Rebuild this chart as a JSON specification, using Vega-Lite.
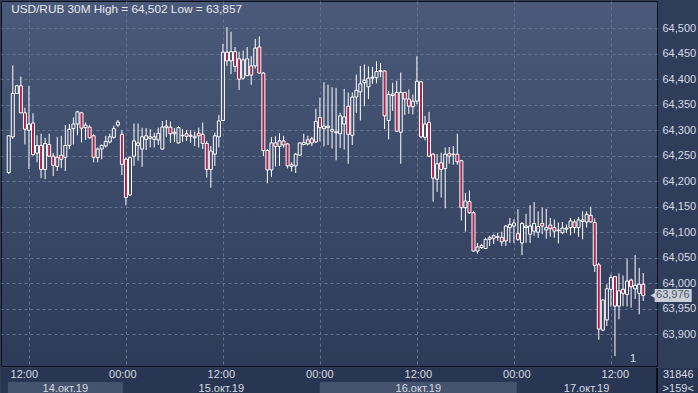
{
  "$schema": "https://vega.github.io/schema/vega-lite/v6.json",
  "padding": 0,
  "spacing": 0,
  "background": "#2f3d5a",
  "config": {"font": "Liberation Sans Narrow, Liberation Sans, sans-serif", "view": {"stroke": null}},
  "resolve": {"scale": {"x": "independent", "y": "independent"}},
  "datasets": {
    "candles": [
      {"t":"2019-10-14T09:30","o":64.217,"h":64.290,"l":64.214,"c":64.289},
      {"t":"2019-10-14T10:00","o":64.287,"h":64.427,"l":64.283,"c":64.372},
      {"t":"2019-10-14T10:30","o":64.372,"h":64.389,"l":64.371,"c":64.387},
      {"t":"2019-10-14T11:00","o":64.387,"h":64.405,"l":64.333,"c":64.334},
      {"t":"2019-10-14T11:30","o":64.334,"h":64.344,"l":64.272,"c":64.302},
      {"t":"2019-10-14T12:00","o":64.300,"h":64.387,"l":64.224,"c":64.312},
      {"t":"2019-10-14T12:30","o":64.314,"h":64.333,"l":64.250,"c":64.252},
      {"t":"2019-10-14T13:00","o":64.255,"h":64.290,"l":64.237,"c":64.270},
      {"t":"2019-10-14T13:30","o":64.270,"h":64.293,"l":64.206,"c":64.223},
      {"t":"2019-10-14T14:00","o":64.223,"h":64.285,"l":64.204,"c":64.274},
      {"t":"2019-10-14T14:30","o":64.272,"h":64.293,"l":64.247,"c":64.249},
      {"t":"2019-10-14T15:00","o":64.249,"h":64.255,"l":64.210,"c":64.231},
      {"t":"2019-10-14T15:30","o":64.229,"h":64.287,"l":64.220,"c":64.247},
      {"t":"2019-10-14T16:00","o":64.251,"h":64.289,"l":64.226,"c":64.243},
      {"t":"2019-10-14T16:30","o":64.247,"h":64.310,"l":64.220,"c":64.270},
      {"t":"2019-10-14T17:00","o":64.270,"h":64.312,"l":64.263,"c":64.302},
      {"t":"2019-10-14T17:30","o":64.303,"h":64.325,"l":64.272,"c":64.312},
      {"t":"2019-10-14T18:00","o":64.312,"h":64.338,"l":64.290,"c":64.336},
      {"t":"2019-10-14T18:30","o":64.334,"h":64.336,"l":64.276,"c":64.304},
      {"t":"2019-10-14T19:00","o":64.305,"h":64.315,"l":64.281,"c":64.310},
      {"t":"2019-10-14T19:30","o":64.306,"h":64.310,"l":64.284,"c":64.285},
      {"t":"2019-10-14T20:00","o":64.289,"h":64.292,"l":64.237,"c":64.247},
      {"t":"2019-10-14T20:30","o":64.246,"h":64.266,"l":64.237,"c":64.263},
      {"t":"2019-10-14T21:00","o":64.263,"h":64.272,"l":64.243,"c":64.270},
      {"t":"2019-10-14T21:30","o":64.269,"h":64.289,"l":64.266,"c":64.278},
      {"t":"2019-10-14T22:00","o":64.277,"h":64.293,"l":64.274,"c":64.287},
      {"t":"2019-10-14T22:30","o":64.286,"h":64.309,"l":64.283,"c":64.303},
      {"t":"2019-10-14T23:00","o":64.310,"h":64.320,"l":64.306,"c":64.316},
      {"t":"2019-10-14T23:30","o":64.292,"h":64.300,"l":64.212,"c":64.233},
      {"t":"2019-10-15T00:00","o":64.243,"h":64.247,"l":64.153,"c":64.168},
      {"t":"2019-10-15T00:30","o":64.173,"h":64.249,"l":64.171,"c":64.246},
      {"t":"2019-10-15T01:00","o":64.249,"h":64.313,"l":64.230,"c":64.279},
      {"t":"2019-10-15T01:30","o":64.270,"h":64.313,"l":64.240,"c":64.275},
      {"t":"2019-10-15T02:00","o":64.263,"h":64.305,"l":64.228,"c":64.287},
      {"t":"2019-10-15T02:30","o":64.282,"h":64.304,"l":64.261,"c":64.289},
      {"t":"2019-10-15T03:00","o":64.284,"h":64.302,"l":64.266,"c":64.287},
      {"t":"2019-10-15T03:30","o":64.282,"h":64.295,"l":64.266,"c":64.287},
      {"t":"2019-10-15T04:00","o":64.281,"h":64.305,"l":64.271,"c":64.294},
      {"t":"2019-10-15T04:30","o":64.263,"h":64.318,"l":64.262,"c":64.306},
      {"t":"2019-10-15T05:00","o":64.305,"h":64.320,"l":64.287,"c":64.308},
      {"t":"2019-10-15T05:30","o":64.306,"h":64.317,"l":64.275,"c":64.293},
      {"t":"2019-10-15T06:00","o":64.293,"h":64.304,"l":64.277,"c":64.296},
      {"t":"2019-10-15T06:30","o":64.275,"h":64.308,"l":64.274,"c":64.305},
      {"t":"2019-10-15T07:00","o":64.289,"h":64.302,"l":64.277,"c":64.290},
      {"t":"2019-10-15T07:30","o":64.293,"h":64.300,"l":64.279,"c":64.288},
      {"t":"2019-10-15T08:00","o":64.288,"h":64.300,"l":64.275,"c":64.290},
      {"t":"2019-10-15T08:30","o":64.285,"h":64.297,"l":64.269,"c":64.288},
      {"t":"2019-10-15T09:00","o":64.294,"h":64.305,"l":64.266,"c":64.289},
      {"t":"2019-10-15T09:30","o":64.292,"h":64.315,"l":64.263,"c":64.274},
      {"t":"2019-10-15T10:00","o":64.274,"h":64.279,"l":64.207,"c":64.223},
      {"t":"2019-10-15T10:30","o":64.223,"h":64.269,"l":64.187,"c":64.259},
      {"t":"2019-10-15T11:00","o":64.253,"h":64.295,"l":64.230,"c":64.289},
      {"t":"2019-10-15T11:30","o":64.287,"h":64.330,"l":64.266,"c":64.318},
      {"t":"2019-10-15T12:00","o":64.319,"h":64.469,"l":64.318,"c":64.453},
      {"t":"2019-10-15T12:30","o":64.453,"h":64.502,"l":64.426,"c":64.436},
      {"t":"2019-10-15T13:00","o":64.436,"h":64.493,"l":64.410,"c":64.454},
      {"t":"2019-10-15T13:30","o":64.454,"h":64.463,"l":64.414,"c":64.425},
      {"t":"2019-10-15T14:00","o":64.440,"h":64.454,"l":64.379,"c":64.400},
      {"t":"2019-10-15T14:30","o":64.402,"h":64.456,"l":64.399,"c":64.438},
      {"t":"2019-10-15T15:00","o":64.407,"h":64.463,"l":64.406,"c":64.440},
      {"t":"2019-10-15T15:30","o":64.426,"h":64.445,"l":64.389,"c":64.408},
      {"t":"2019-10-15T16:00","o":64.426,"h":64.479,"l":64.421,"c":64.461},
      {"t":"2019-10-15T16:30","o":64.463,"h":64.484,"l":64.411,"c":64.412},
      {"t":"2019-10-15T17:00","o":64.412,"h":64.414,"l":64.249,"c":64.260},
      {"t":"2019-10-15T17:30","o":64.260,"h":64.263,"l":64.196,"c":64.222},
      {"t":"2019-10-15T18:00","o":64.222,"h":64.286,"l":64.208,"c":64.275},
      {"t":"2019-10-15T18:30","o":64.275,"h":64.288,"l":64.229,"c":64.268},
      {"t":"2019-10-15T19:00","o":64.268,"h":64.294,"l":64.230,"c":64.279},
      {"t":"2019-10-15T19:30","o":64.279,"h":64.289,"l":64.266,"c":64.271},
      {"t":"2019-10-15T20:00","o":64.273,"h":64.275,"l":64.225,"c":64.230},
      {"t":"2019-10-15T20:30","o":64.229,"h":64.237,"l":64.219,"c":64.232},
      {"t":"2019-10-15T21:00","o":64.230,"h":64.255,"l":64.216,"c":64.253},
      {"t":"2019-10-15T21:30","o":64.251,"h":64.276,"l":64.250,"c":64.275},
      {"t":"2019-10-15T22:00","o":64.272,"h":64.293,"l":64.270,"c":64.276},
      {"t":"2019-10-15T22:30","o":64.273,"h":64.289,"l":64.270,"c":64.281},
      {"t":"2019-10-15T23:00","o":64.283,"h":64.287,"l":64.269,"c":64.275},
      {"t":"2019-10-15T23:30","o":64.277,"h":64.342,"l":64.275,"c":64.317},
      {"t":"2019-10-16T00:00","o":64.325,"h":64.364,"l":64.278,"c":64.305},
      {"t":"2019-10-16T00:30","o":64.303,"h":64.394,"l":64.268,"c":64.308},
      {"t":"2019-10-16T01:00","o":64.305,"h":64.389,"l":64.271,"c":64.308},
      {"t":"2019-10-16T01:30","o":64.298,"h":64.384,"l":64.264,"c":64.301},
      {"t":"2019-10-16T02:00","o":64.295,"h":64.383,"l":64.241,"c":64.297},
      {"t":"2019-10-16T02:30","o":64.293,"h":64.334,"l":64.265,"c":64.328},
      {"t":"2019-10-16T03:00","o":64.312,"h":64.381,"l":64.262,"c":64.326},
      {"t":"2019-10-16T03:30","o":64.347,"h":64.374,"l":64.234,"c":64.292},
      {"t":"2019-10-16T04:00","o":64.290,"h":64.374,"l":64.271,"c":64.365},
      {"t":"2019-10-16T04:30","o":64.365,"h":64.409,"l":64.334,"c":64.378},
      {"t":"2019-10-16T05:00","o":64.375,"h":64.426,"l":64.319,"c":64.391},
      {"t":"2019-10-16T05:30","o":64.393,"h":64.429,"l":64.347,"c":64.398},
      {"t":"2019-10-16T06:00","o":64.385,"h":64.425,"l":64.361,"c":64.402},
      {"t":"2019-10-16T06:30","o":64.402,"h":64.424,"l":64.391,"c":64.404},
      {"t":"2019-10-16T07:00","o":64.403,"h":64.435,"l":64.392,"c":64.415},
      {"t":"2019-10-16T07:30","o":64.415,"h":64.432,"l":64.404,"c":64.417},
      {"t":"2019-10-16T08:00","o":64.416,"h":64.418,"l":64.302,"c":64.328},
      {"t":"2019-10-16T08:30","o":64.319,"h":64.377,"l":64.282,"c":64.370},
      {"t":"2019-10-16T09:00","o":64.368,"h":64.393,"l":64.338,"c":64.371},
      {"t":"2019-10-16T09:30","o":64.374,"h":64.397,"l":64.297,"c":64.298},
      {"t":"2019-10-16T10:00","o":64.296,"h":64.413,"l":64.234,"c":64.374},
      {"t":"2019-10-16T10:30","o":64.374,"h":64.375,"l":64.330,"c":64.361},
      {"t":"2019-10-16T11:00","o":64.361,"h":64.380,"l":64.332,"c":64.347},
      {"t":"2019-10-16T11:30","o":64.346,"h":64.370,"l":64.331,"c":64.357},
      {"t":"2019-10-16T12:00","o":64.357,"h":64.445,"l":64.351,"c":64.396},
      {"t":"2019-10-16T12:30","o":64.395,"h":64.396,"l":64.285,"c":64.287},
      {"t":"2019-10-16T13:00","o":64.286,"h":64.328,"l":64.280,"c":64.312},
      {"t":"2019-10-16T13:30","o":64.315,"h":64.336,"l":64.247,"c":64.249},
      {"t":"2019-10-16T14:00","o":64.253,"h":64.255,"l":64.160,"c":64.206},
      {"t":"2019-10-16T14:30","o":64.204,"h":64.253,"l":64.179,"c":64.234},
      {"t":"2019-10-16T15:00","o":64.236,"h":64.256,"l":64.168,"c":64.223},
      {"t":"2019-10-16T15:30","o":64.225,"h":64.266,"l":64.147,"c":64.253},
      {"t":"2019-10-16T16:00","o":64.254,"h":64.267,"l":64.234,"c":64.249},
      {"t":"2019-10-16T16:30","o":64.252,"h":64.269,"l":64.232,"c":64.253},
      {"t":"2019-10-16T17:00","o":64.253,"h":64.293,"l":64.232,"c":64.238},
      {"t":"2019-10-16T17:30","o":64.240,"h":64.242,"l":64.123,"c":64.148},
      {"t":"2019-10-16T18:00","o":64.148,"h":64.177,"l":64.101,"c":64.161},
      {"t":"2019-10-16T18:30","o":64.160,"h":64.182,"l":64.136,"c":64.138},
      {"t":"2019-10-16T19:00","o":64.138,"h":64.141,"l":64.062,"c":64.063},
      {"t":"2019-10-16T19:30","o":64.063,"h":64.079,"l":64.058,"c":64.071},
      {"t":"2019-10-16T20:00","o":64.070,"h":64.077,"l":64.067,"c":64.074},
      {"t":"2019-10-16T20:30","o":64.068,"h":64.089,"l":64.067,"c":64.086},
      {"t":"2019-10-16T21:00","o":64.086,"h":64.093,"l":64.073,"c":64.089},
      {"t":"2019-10-16T21:30","o":64.088,"h":64.096,"l":64.077,"c":64.093},
      {"t":"2019-10-16T22:00","o":64.090,"h":64.099,"l":64.083,"c":64.091},
      {"t":"2019-10-16T22:30","o":64.090,"h":64.101,"l":64.073,"c":64.081},
      {"t":"2019-10-16T23:00","o":64.083,"h":64.114,"l":64.073,"c":64.112},
      {"t":"2019-10-16T23:30","o":64.109,"h":64.128,"l":64.079,"c":64.115},
      {"t":"2019-10-17T00:00","o":64.112,"h":64.125,"l":64.079,"c":64.118},
      {"t":"2019-10-17T00:30","o":64.097,"h":64.145,"l":64.083,"c":64.086},
      {"t":"2019-10-17T01:00","o":64.079,"h":64.120,"l":64.055,"c":64.117},
      {"t":"2019-10-17T01:30","o":64.109,"h":64.136,"l":64.079,"c":64.112},
      {"t":"2019-10-17T02:00","o":64.096,"h":64.153,"l":64.079,"c":64.112},
      {"t":"2019-10-17T02:30","o":64.102,"h":64.159,"l":64.093,"c":64.117},
      {"t":"2019-10-17T03:00","o":64.100,"h":64.141,"l":64.089,"c":64.111},
      {"t":"2019-10-17T03:30","o":64.117,"h":64.148,"l":64.096,"c":64.112},
      {"t":"2019-10-17T04:00","o":64.104,"h":64.146,"l":64.087,"c":64.109},
      {"t":"2019-10-17T04:30","o":64.114,"h":64.128,"l":64.091,"c":64.107},
      {"t":"2019-10-17T05:00","o":64.109,"h":64.125,"l":64.089,"c":64.102},
      {"t":"2019-10-17T05:30","o":64.103,"h":64.119,"l":64.078,"c":64.104},
      {"t":"2019-10-17T06:00","o":64.099,"h":64.120,"l":64.096,"c":64.108},
      {"t":"2019-10-17T06:30","o":64.106,"h":64.115,"l":64.098,"c":64.108},
      {"t":"2019-10-17T07:00","o":64.109,"h":64.128,"l":64.094,"c":64.122},
      {"t":"2019-10-17T07:30","o":64.120,"h":64.125,"l":64.098,"c":64.109},
      {"t":"2019-10-17T08:00","o":64.109,"h":64.130,"l":64.091,"c":64.124},
      {"t":"2019-10-17T08:30","o":64.121,"h":64.141,"l":64.086,"c":64.124},
      {"t":"2019-10-17T09:00","o":64.120,"h":64.141,"l":64.109,"c":64.135},
      {"t":"2019-10-17T09:30","o":64.133,"h":64.150,"l":64.119,"c":64.120},
      {"t":"2019-10-17T10:00","o":64.119,"h":64.127,"l":64.022,"c":64.035},
      {"t":"2019-10-17T10:30","o":64.036,"h":64.040,"l":63.889,"c":63.910},
      {"t":"2019-10-17T11:00","o":63.908,"h":63.969,"l":63.906,"c":63.967},
      {"t":"2019-10-17T11:30","o":63.928,"h":63.998,"l":63.916,"c":63.989},
      {"t":"2019-10-17T12:00","o":63.988,"h":64.017,"l":63.954,"c":64.011},
      {"t":"2019-10-17T12:30","o":64.013,"h":64.014,"l":63.857,"c":63.955},
      {"t":"2019-10-17T13:00","o":63.955,"h":64.019,"l":63.929,"c":63.985},
      {"t":"2019-10-17T13:30","o":63.988,"h":64.015,"l":63.955,"c":63.980},
      {"t":"2019-10-17T14:00","o":63.978,"h":64.048,"l":63.954,"c":64.004},
      {"t":"2019-10-17T14:30","o":64.006,"h":64.009,"l":63.952,"c":63.993},
      {"t":"2019-10-17T15:00","o":63.989,"h":64.055,"l":63.969,"c":63.996},
      {"t":"2019-10-17T15:30","o":63.980,"h":64.030,"l":63.939,"c":63.998},
      {"t":"2019-10-17T16:00","o":63.998,"h":64.020,"l":63.965,"c":63.976}
    ]
  },
  "vconcat": [
    {
      "width": 656,
      "height": 365,
      "view": {
        "fill": {"gradient": "linear", "x1": 0, "y1": 0, "x2": 0, "y2": 1, "stops": [{"offset": 0, "color": "#4b5a7a"}, {"offset": 1, "color": "#2d3a58"}]},
        "stroke": "#0b0f16",
        "strokeWidth": 1
      },
      "encoding": {
        "x": {
          "field": "t", "type": "temporal",
          "scale": {"nice": false, "domain": [{"year": 2019, "month": 10, "date": 14, "hours": 9, "minutes": 9, "seconds": 36}, {"year": 2019, "month": 10, "date": 17, "hours": 17, "minutes": 5, "seconds": 6}]},
          "axis": {
            "values": [
              {"year": 2019, "month": 10, "date": 14, "hours": 12},
              {"year": 2019, "month": 10, "date": 15, "hours": 0},
              {"year": 2019, "month": 10, "date": 15, "hours": 12},
              {"year": 2019, "month": 10, "date": 16, "hours": 0},
              {"year": 2019, "month": 10, "date": 16, "hours": 12},
              {"year": 2019, "month": 10, "date": 17, "hours": 0},
              {"year": 2019, "month": 10, "date": 17, "hours": 12}
            ],
            "labels": false, "ticks": false, "domain": false, "title": null,
            "grid": true, "gridColor": "#64728f", "gridDash": [3, 3], "gridWidth": 1
          }
        },
        "y": {
          "field": "l", "type": "quantitative",
          "scale": {"domain": [63.8376, 64.5533], "nice": false, "zero": false},
          "axis": {
            "orient": "right", "title": null,
            "values": [63.9, 63.95, 64.0, 64.05, 64.1, 64.15, 64.2, 64.25, 64.3, 64.35, 64.4, 64.45, 64.5],
            "labelExpr": "replace(format(datum.value, '.3f'), '.', ',')",
            "grid": true, "gridColor": "#64728f", "gridDash": [3, 3],
            "ticks": false, "domain": false, "labelPadding": 5,
            "labelFontSize": 11, "labelColor": "#d6dbe4"
          }
        }
      },
      "layer": [
        {
          "data": {"name": "candles"},
          "mark": {"type": "rule", "color": "#ffffff", "strokeWidth": 1},
          "encoding": {"y2": {"field": "h"}}
        },
        {
          "data": {"name": "candles"},
          "transform": [{"filter": "datum.c >= datum.o"}],
          "mark": {"type": "bar", "orient": "vertical", "width": 3, "stroke": "#ffffff", "strokeWidth": 1},
          "encoding": {
            "y": {"field": "o", "type": "quantitative", "title": null},
            "y2": {"field": "c"},
            "fill": {"field": "c", "type": "quantitative", "scale": {"domain": [63.8376, 64.5533], "range": ["#2d3a58", "#4b5a7a"]}, "legend": null}
          }
        },
        {
          "data": {"name": "candles"},
          "transform": [{"filter": "datum.c < datum.o"}],
          "mark": {"type": "bar", "orient": "vertical", "width": 3, "stroke": "#ffffff", "strokeWidth": 1, "fill": "#a8234a"},
          "encoding": {
            "y": {"field": "o", "type": "quantitative", "title": null},
            "y2": {"field": "c"}
          }
        },
        {
          "data": {"values": [{"t": "2019-10-14T09:48", "p": 64.537, "label": "USD/RUB 30M  High = 64,502 Low = 63,857"}]},
          "mark": {"type": "text", "align": "left", "baseline": "middle", "fontSize": 11.8, "color": "#e6e9ef"},
          "encoding": {
            "y": {"field": "p", "type": "quantitative", "title": null},
            "text": {"field": "label"}
          }
        },
        {
          "data": {"values": [{"t": "2019-10-17T17:25", "t2": "2019-10-17T22:00", "p": 63.9886, "p2": 63.9631}]},
          "mark": {"type": "rect", "color": "#c9ced7"},
          "encoding": {
            "x2": {"field": "t2"},
            "y": {"field": "p", "type": "quantitative", "title": null},
            "y2": {"field": "p2"}
          }
        },
        {
          "data": {"values": [{"t": "2019-10-17T17:15", "p": 63.976}]},
          "mark": {"type": "point", "shape": "triangle-left", "filled": true, "color": "#c9ced7", "size": 45, "opacity": 1},
          "encoding": {
            "y": {"field": "p", "type": "quantitative", "title": null}
          }
        },
        {
          "data": {"values": [{"t": "2019-10-17T19:40", "p": 63.976, "label": "63,976"}, {"t": "2019-10-17T14:45", "p": 63.851, "label": "1"}]},
          "mark": {"type": "text", "align": "center", "baseline": "middle", "fontSize": 11},
          "encoding": {
            "y": {"field": "p", "type": "quantitative", "title": null},
            "text": {"field": "label"},
            "color": {"field": "label", "type": "nominal", "scale": {"domain": ["63,976", "1"], "range": ["#4a5470", "#dfe3ea"]}, "legend": null}
          }
        }
      ]
    },
    {
      "width": 698,
      "height": 28,
      "view": {"fill": "#293653", "stroke": null},
      "encoding": {
        "x": {
          "field": "t", "type": "temporal",
          "scale": {"nice": false, "domain": [{"year": 2019, "month": 10, "date": 14, "hours": 9, "minutes": 9, "seconds": 36}, {"year": 2019, "month": 10, "date": 17, "hours": 22, "minutes": 12}]},
          "axis": null
        }
      },
      "layer": [
        {
          "data": {"values": [
            {"t": "2019-10-14T10:00", "t2": "2019-10-15T00:00", "row": "date"},
            {"t": "2019-10-16T00:00", "t2": "2019-10-17T00:00", "row": "date"}
          ]},
          "mark": {"type": "rect", "color": "#46536e"},
          "encoding": {
            "x2": {"field": "t2"},
            "y": {"field": "row", "type": "nominal", "scale": {"domain": ["time", "date"], "paddingInner": 0, "paddingOuter": 0}, "axis": null}
          }
        },
        {
          "data": {"values": [{"t": "2019-10-17T17:05"}]},
          "mark": {"type": "rule", "color": "#0b0f16", "strokeWidth": 2},
          "encoding": {}
        },
        {
          "data": {"values": [
            {"t": "2019-10-14T12:00", "row": "time", "label": "12:00"},
            {"t": "2019-10-15T00:00", "row": "time", "label": "00:00"},
            {"t": "2019-10-15T12:00", "row": "time", "label": "12:00"},
            {"t": "2019-10-16T00:00", "row": "time", "label": "00:00"},
            {"t": "2019-10-16T12:00", "row": "time", "label": "12:00"},
            {"t": "2019-10-17T00:00", "row": "time", "label": "00:00"},
            {"t": "2019-10-17T12:00", "row": "time", "label": "12:00"},
            {"t": "2019-10-14T17:00", "row": "date", "label": "14.окт.19"},
            {"t": "2019-10-15T12:00", "row": "date", "label": "15.окт.19"},
            {"t": "2019-10-16T12:00", "row": "date", "label": "16.окт.19"},
            {"t": "2019-10-17T08:30", "row": "date", "label": "17.окт.19"},
            {"t": "2019-10-17T19:40", "row": "time", "label": "31846"},
            {"t": "2019-10-17T19:40", "row": "date", "label": ">159<"}
          ]},
          "mark": {"type": "text", "align": "center", "baseline": "middle", "fontSize": 11, "color": "#d6dae2"},
          "encoding": {
            "y": {"field": "row", "type": "nominal", "scale": {"domain": ["time", "date"], "paddingInner": 0, "paddingOuter": 0}, "axis": null},
            "text": {"field": "label"}
          }
        }
      ]
    }
  ]
}
